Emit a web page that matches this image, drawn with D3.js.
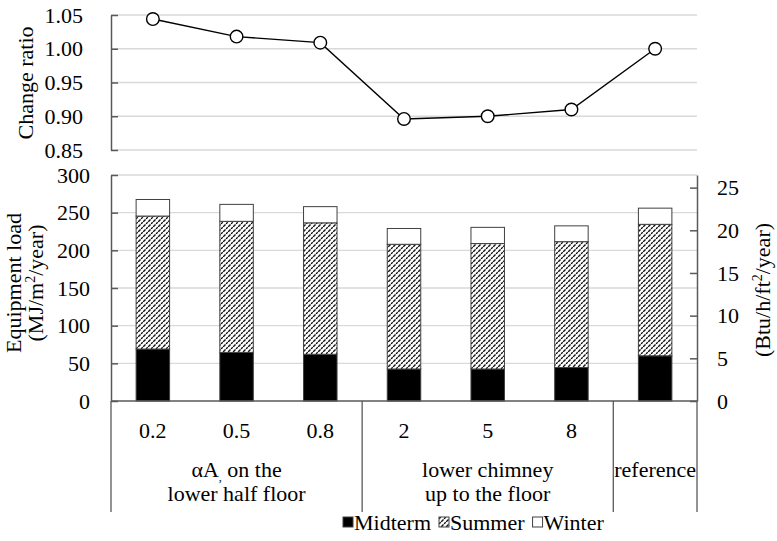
<!DOCTYPE html>
<html><head><meta charset="utf-8">
<script src="https://cdn.jsdelivr.net/npm/d3@7"></script>
<style>body{margin:0;background:#fff}svg{display:block}svg text{font-family:'Liberation Serif','Times New Roman','DejaVu Serif',serif !important;fill:#000}</style>
</head><body><svg id="c" width="777" height="541"></svg>
<script>
const categories = ["0.2","0.5","0.8","2","5","8",""];
const midterm = [69, 64.5, 62, 42.5, 42.5, 44.5, 60];
const summer  = [176.5, 174, 174.5, 165.5, 166.5, 167, 174.5];
const winter  = [22, 22.5, 21.5, 21, 21.5, 21, 21.5];
const ratio   = [1.044, 1.018, 1.009, 0.896, 0.900, 0.910, 1.000];
const groups = [
  {start:0, end:3, lines:[["αA", ",", " on the"], ["lower half floor"]]},
  {start:3, end:6, lines:[["lower chimney"], ["up to the floor"]]},
  {start:6, end:7, lines:[["reference"]]}
];
const ratioTicks = [0.85, 0.90, 0.95, 1.00, 1.05];
const loadTicks = [0, 50, 100, 150, 200, 250, 300];
const btuTicks = [0, 5, 10, 15, 20, 25];
const seriesNames = ["Midterm","Summer","Winter"];

const svg = d3.select("#c");
const L = 111, R = 697;
const axisCol = "#595959", gridCol = "#d9d9d9", FS = 22;
const FF = "'Liberation Serif','Times New Roman','DejaVu Serif',serif";

const defs = svg.append("defs");
const pat = defs.append("pattern").attr("id","hatch").attr("patternUnits","userSpaceOnUse")
  .attr("width",5).attr("height",5);
pat.append("rect").attr("width",5).attr("height",5).attr("fill","#fff");
pat.append("path").attr("d","M-1,6 L6,-1 M-1,1 L1,-1 M4,6 L6,4").attr("stroke","#000").attr("stroke-width",1.3)
  .attr("stroke-dasharray","2.2,0.8");

const x = d3.scaleBand().domain(d3.range(categories.length)).range([L,R]).paddingInner(0.6).paddingOuter(0.3);
const cx = i => x(i) + x.bandwidth()/2;
const step = x.step();

function styleAxis(g){
  g.attr("font-family",FF).attr("font-size",FS);
  g.select(".domain").attr("stroke",axisCol).attr("stroke-width",1.5);
  g.selectAll(".tick line").attr("stroke",axisCol).attr("stroke-width",1.5);
  g.selectAll(".tick text").attr("font-size",FS).style("font-family",FF);
}

// ---- top chart ----
const yT = d3.scaleLinear().domain([0.85,1.05]).range([150,15]);
const gT = svg.append("g");
gT.selectAll(".g").data(ratioTicks).join("line")
  .attr("x1",L).attr("x2",R).attr("y1",d=>yT(d)).attr("y2",d=>yT(d))
  .attr("stroke",gridCol).attr("stroke-width",1.3);
const axT = d3.axisLeft(yT).tickValues(ratioTicks).tickFormat(d3.format(".2f")).tickSizeInner(-7).tickSizeOuter(0).tickPadding(28);
gT.append("g").attr("transform",`translate(${L},0)`).call(axT).call(styleAxis);
const line = d3.line().x((d,i)=>cx(i)).y(d=>yT(d));
gT.append("path").datum(ratio).attr("d",line).attr("fill","none").attr("stroke","#000").attr("stroke-width",1.4);
gT.selectAll("circle").data(ratio).join("circle").attr("cx",(d,i)=>cx(i)).attr("cy",d=>yT(d)).attr("r",6.3)
  .attr("fill","#fff").attr("stroke","#000").attr("stroke-width",1.4);
svg.append("text").attr("transform","translate(33,83) rotate(-90)").attr("text-anchor","middle")
  .attr("font-size",FS).style("font-family",FF).text("Change ratio");

// ---- bottom chart ----
const yB = d3.scaleLinear().domain([0,300]).range([401,175]);
const btuMax = 300/11.33;
const yR = d3.scaleLinear().domain([0,btuMax]).range([401,175]);
const gB = svg.append("g");
gB.selectAll(".g").data(loadTicks.slice(1)).join("line")
  .attr("x1",L).attr("x2",R).attr("y1",d=>yB(d)).attr("y2",d=>yB(d))
  .attr("stroke",gridCol).attr("stroke-width",1.3);

const stackData = categories.map((c,i)=>({Midterm:midterm[i],Summer:summer[i],Winter:winter[i],i}));
const stacked = d3.stack().keys(seriesNames)(stackData);
const fills = {Midterm:"#000", Summer:"url(#hatch)", Winter:"#fff"};
stacked.forEach(s=>{
  gB.append("g").selectAll("rect").data(s).join("rect")
    .attr("x",d=>x(d.data.i)).attr("width",x.bandwidth())
    .attr("y",d=>yB(d[1])).attr("height",d=>yB(d[0])-yB(d[1]))
    .attr("fill",fills[s.key]).attr("stroke","#404040").attr("stroke-width",1);
});

const axB = d3.axisLeft(yB).tickValues(loadTicks).tickSizeInner(-7).tickSizeOuter(0).tickPadding(21);
gB.append("g").attr("transform",`translate(${L},0)`).call(axB).call(styleAxis);
const axR = d3.axisRight(yR).tickValues(btuTicks).tickSizeInner(-7).tickSizeOuter(0).tickPadding(20);
gB.append("g").attr("transform",`translate(${R},0)`).call(axR).call(styleAxis);

// x axis line
gB.append("line").attr("x1",L).attr("x2",R).attr("y1",401).attr("y2",401).attr("stroke",axisCol).attr("stroke-width",1.5);

// category table
const sepX = [L, ...groups.map(g=>L+g.end*step)];
gB.selectAll(".sep").data(sepX).join("line").attr("x1",d=>d).attr("x2",d=>d).attr("y1",401).attr("y2",512)
  .attr("stroke",axisCol).attr("stroke-width",1.3);
gB.selectAll(".cat").data(categories).join("text").attr("x",(d,i)=>cx(i)).attr("y",438)
  .attr("text-anchor","middle").attr("font-size",FS).style("font-family",FF).text(d=>d);
groups.forEach(g=>{
  const mx = L + (g.start+g.end)/2*step;
  g.lines.forEach((ln,k)=>{
    const t = gB.append("text").attr("x",mx).attr("y",477+k*24).attr("text-anchor","middle").attr("font-size",FS).style("font-family",FF);
    ln.forEach((part,j)=>{
      const ts = t.append("tspan").text(part);
      if (part === ",") ts.attr("font-size",12).attr("dy",4);
      else if (j>0 && ln[j-1]===",") ts.attr("dy",-4);
    });
  });
});

// axis titles
const lt = svg.append("g").attr("transform","translate(0,283)");
lt.append("text").attr("transform","translate(21,0) rotate(-90)").attr("text-anchor","middle").attr("font-size",FS).style("font-family",FF).text("Equipment load");
const t2 = lt.append("text").attr("transform","translate(43,0) rotate(-90)").attr("text-anchor","middle").attr("font-size",FS).style("font-family",FF);
t2.append("tspan").text("(MJ/m");
t2.append("tspan").attr("font-size",14).attr("dy",-8).text("2");
t2.append("tspan").attr("dy",8).text("/year)");
const t3 = svg.append("text").attr("transform","translate(770,290) rotate(-90)").attr("text-anchor","middle").attr("font-size",FS).style("font-family",FF);
t3.append("tspan").text("(Btu/h/ft");
t3.append("tspan").attr("font-size",14).attr("dy",-8).text("2");
t3.append("tspan").attr("dy",8).text("/year)");

// legend
const leg = svg.append("g").attr("transform","translate(343,530)");
const legFill = {Midterm:"#000", Summer:"url(#hatch)", Winter:"#fff"};
let lx = 0;
seriesNames.forEach(n=>{
  leg.append("rect").attr("x",lx).attr("y",-13).attr("width",10).attr("height",10).attr("fill",legFill[n]).attr("stroke","#404040").attr("stroke-width",1);
  const tt = leg.append("text").attr("x",lx+11).attr("y",0).attr("font-size",FS).style("font-family",FF).text(n);
  lx += 11 + tt.node().getComputedTextLength() + 8;
});
</script></body></html>
